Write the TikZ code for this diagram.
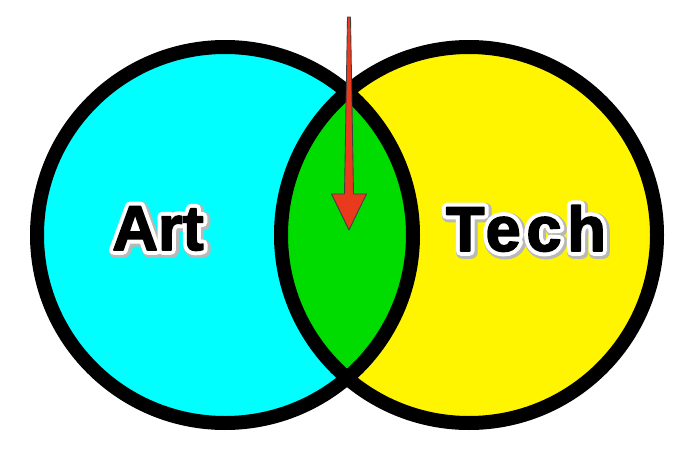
\documentclass[tikz,border=0pt]{standalone}
\usepackage{fontspec}
\setmainfont{Liberation Sans}
\usepackage{xcolor}
\usepackage{tikz}
\usetikzlibrary{arrows.meta, positioning, calc}
\definecolor{warnaart}{HTML}{00FFFF}
\definecolor{warnatech}{HTML}{FFF500}
\definecolor{warnairisan}{HTML}{00DC00}
\definecolor{warnapanah}{HTML}{E93A1E}
% teks berbingkai putih dengan bayangan abu-abu
\newcommand{\bertepi}[1]{%
  \special{pdf:literal direct q 0.72 0.72 0.72 RG 0.72 0.72 0.72 rg 7 w 1 j 2 Tr}%
  \rlap{\kern0.9pt\raisebox{-0.9pt}{#1}}%
  \special{pdf:literal direct 0 Tr Q}%
  \special{pdf:literal direct q 1 1 1 RG 1 1 1 rg 5.4 w 1 j 2 Tr}%
  \rlap{#1}%
  \special{pdf:literal direct 0 Tr Q}%
  \special{pdf:literal direct q 0 0 0 RG 0 0 0 rg 0.9 w 1 j 2 Tr}%
  #1%
  \special{pdf:literal direct 0 Tr Q}}

\begin{document}
\begin{tikzpicture}[
    lingkaran/.style={draw=black, line width=0.28cm},
    teks/.style={font=\fontsize{36}{42}\selectfont\bfseries, anchor=base, inner sep=0pt},
    panah/.style={fill=warnapanah, draw=black!75, line width=0.5pt, line join=round}
  ]
    \useasboundingbox (0,0) rectangle (13.94,9.14);
    \coordinate (ka) at (4.50,4.44);
    \coordinate (kb) at (9.38,4.44);
    \fill[warnaart] (ka) circle (3.76);
    \fill[warnatech] (kb) circle (3.76);
    \begin{scope}
      \clip (ka) circle (3.76);
      \fill[warnairisan] (kb) circle (3.76);
    \end{scope}
    \draw[lingkaran] (ka) circle (3.76);
    \draw[lingkaran] (kb) circle (3.76);
    \node[teks] (art) at (3.16,4.14) {\bertepi{Art}};
    \node[teks] (tech) at (10.52,4.12)
      {\addfontfeature{LetterSpace=9}\bertepi{Tech}};
    \coordinate (pangkal) at (6.98,8.80);
    \coordinate (ujung) at (6.98,4.54);
    \draw[panah] ($(pangkal)+(-0.03,0)$) -- ($(pangkal)+(0.03,0)$)
      -- ($(ujung)+(0.09,0.72)$) -- ($(ujung)+(0.35,0.72)$) -- (ujung)
      -- ($(ujung)+(-0.35,0.72)$) -- ($(ujung)+(-0.09,0.72)$) -- cycle;
  \end{tikzpicture}
\end{document}
